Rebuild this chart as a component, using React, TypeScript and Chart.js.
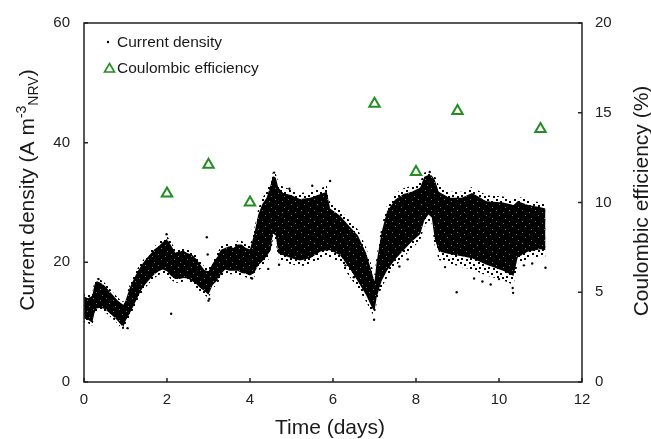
import { useEffect, useRef } from "react";
import { Chart, registerables } from "chart.js";

Chart.register(...registerables);

// ---- data ----
const timeDays = [
  0.0, 0.1, 0.2, 0.25, 0.3, 0.4, 0.5, 0.6, 0.7, 0.8, 0.9, 0.95, 1.0, 1.1, 1.2, 1.3, 1.4, 1.5, 1.6, 1.7,
  1.8, 1.9, 2.0, 2.1, 2.2, 2.3, 2.4, 2.5, 2.6, 2.7, 2.8, 2.9, 3.0, 3.1, 3.2, 3.3, 3.4, 3.5, 3.6, 3.7,
  3.8, 3.9, 4.0, 4.1, 4.2, 4.3, 4.4, 4.5, 4.55, 4.62, 4.68, 4.8, 5.0, 5.2, 5.45, 5.7, 5.85, 5.93, 6.17, 6.4,
  6.6, 6.8, 6.95, 7.0, 7.05, 7.17, 7.3, 7.5, 7.7, 7.9, 8.1, 8.2, 8.3, 8.38, 8.45, 8.55, 8.8, 9.1, 9.35, 9.7,
  10.1, 10.35, 10.45, 10.7, 11.0, 11.12,
];
// dense core of the current-density cloud (A m-3)
const densityHigh = [
  14.3, 14.0, 14.4, 16.2, 16.9, 16.6, 16.1, 15.3, 14.5, 13.7, 13.1, 12.9, 13.6, 15.7, 17.2, 18.6, 19.7, 20.6, 21.4, 22.2,
  22.7, 23.4, 23.9, 22.8, 21.6, 21.9, 21.9, 21.5, 21.3, 20.6, 19.7, 18.7, 18.5, 19.8, 20.8, 22.1, 22.4, 22.7, 22.4, 23.0,
  23.0, 22.4, 22.2, 24.7, 28.0, 29.8, 30.8, 33.0, 34.4, 34.2, 32.5, 31.6, 31.2, 30.6, 30.8, 31.4, 31.8, 29.0, 27.8, 26.0,
  24.5, 21.5, 18.0, 16.8, 20.0, 25.0, 28.5, 30.5, 31.4, 31.8, 32.5, 34.3, 34.6, 34.5, 33.8, 31.8, 30.8, 30.8, 31.6, 30.2,
  30.0, 29.6, 30.2, 29.6, 29.2, 29.0,
];
const densityLow = [
  10.6, 10.4, 9.9, 11.5, 12.3, 12.4, 12.2, 11.6, 11.0, 10.3, 9.5, 9.2, 10.2, 11.4, 12.8, 14.3, 15.6, 16.5, 17.3, 18.0,
  18.5, 18.8, 18.5, 17.7, 17.2, 17.2, 17.4, 17.3, 16.9, 16.4, 15.7, 15.2, 14.6, 16.2, 16.9, 18.0, 18.8, 18.6, 18.6, 18.6,
  18.2, 18.1, 17.8, 18.2, 19.5, 20.2, 21.0, 22.0, 24.8, 24.5, 21.5, 21.2, 20.7, 20.3, 20.7, 21.8, 22.0, 22.0, 21.2, 19.0,
  16.8, 14.5, 12.3, 11.8, 14.1, 16.9, 18.6, 20.5, 22.0, 23.5, 24.7, 27.0, 28.0, 27.5, 24.0, 21.8, 21.4, 21.0, 20.7, 19.6,
  18.6, 17.7, 20.8, 21.8, 22.2, 22.0,
];
// sparse fringe of the cloud
const fringeHigh = [
  14.8, 14.6, 14.9, 16.8, 17.4, 17.1, 16.6, 15.8, 15.0, 14.2, 13.6, 13.4, 14.1, 16.2, 17.7, 19.1, 20.2, 21.1, 21.9, 22.7,
  23.3, 24.0, 24.4, 23.4, 22.2, 22.5, 22.5, 22.1, 21.9, 21.2, 20.3, 19.3, 19.1, 20.4, 21.4, 22.7, 23.0, 23.3, 23.0, 23.6,
  23.6, 23.0, 22.8, 25.5, 29.0, 30.8, 31.8, 34.0, 35.0, 34.8, 33.5, 32.6, 32.2, 31.6, 31.8, 32.4, 32.8, 30.0, 28.8, 27.0,
  25.5, 22.5, 19.0, 17.8, 21.0, 26.0, 29.5, 31.5, 32.4, 32.8, 33.5, 35.0, 35.2, 35.0, 34.6, 32.8, 31.8, 31.8, 32.6, 31.2,
  31.0, 30.6, 31.0, 30.4, 30.0, 29.8,
];
const fringeLow = [
  10.0, 9.8, 9.4, 11.0, 11.8, 11.9, 11.7, 11.1, 10.5, 9.8, 9.0, 8.8, 9.7, 10.9, 12.3, 13.8, 15.0, 15.9, 16.7, 17.4,
  17.9, 18.2, 17.9, 17.1, 16.6, 16.6, 16.8, 16.7, 16.3, 15.8, 15.1, 14.6, 14.0, 15.6, 16.3, 17.4, 18.2, 18.0, 18.0, 18.0,
  17.6, 17.5, 17.2, 17.5, 18.6, 19.2, 20.0, 21.0, 23.8, 23.5, 20.5, 20.0, 19.7, 19.3, 19.7, 20.6, 20.8, 20.8, 19.8, 17.6,
  15.6, 13.4, 11.4, 10.9, 13.1, 15.8, 17.4, 19.3, 20.8, 22.3, 23.6, 26.0, 27.0, 26.5, 22.8, 20.4, 19.8, 19.2, 18.8, 17.8,
  17.0, 16.2, 19.8, 20.6, 21.0, 20.8,
];
const outlierTimes = [
  1.99, 2.1, 2.96, 2.98, 3.0, 3.02, 4.05, 4.44, 4.7, 4.95, 5.5, 5.93, 6.3, 6.5, 6.99, 7.6, 7.8, 8.7, 8.98, 9.4,
  9.6, 9.8, 10.0, 10.33, 10.34, 10.6, 10.8, 11.12, 0.35, 1.05, 4.58, 8.33,
];
const outlierDensity = [
  24.7, 11.4, 24.2, 21.3, 13.6, 13.9, 17.3, 18.9, 19.6, 32.3, 32.8, 33.6, 19.5, 17.5, 10.4, 19.3, 20.5, 19.2, 15.0, 17.3,
  16.8, 16.3, 17.2, 15.7, 14.9, 19.5, 19.8, 19.1, 17.2, 9.0, 35.0, 35.1,
];
const ceDays = [2, 3, 4, 7, 8, 9, 11];
const ceValues = [10.5, 12.1, 10.0, 15.5, 11.7, 15.1, 14.1];
const xTicks = [0, 2, 4, 6, 8, 10, 12];
const yLeftTicks = [0, 20, 40, 60];
const yRightTicks = [0, 5, 10, 15, 20];

const FONT = '"Liberation Sans", Arial, Helvetica, sans-serif';
const GREEN = "#238c23";
const INK = "#1a1a1a";

function makeDensePattern(ctx: CanvasRenderingContext2D) {
  const c = document.createElement("canvas");
  c.width = 13;
  c.height = 11;
  const g = c.getContext("2d")!;
  g.fillStyle = "#000";
  g.fillRect(0, 0, 13, 11);
  g.fillStyle = "rgba(255,255,255,0.45)";
  g.fillRect(2, 1, 1, 1);
  g.fillRect(9, 3, 1, 1);
  g.fillRect(5, 6, 1, 1);
  g.fillRect(11, 9, 1, 1);
  return ctx.createPattern(c, "repeat")!;
}

function makeFringePattern(ctx: CanvasRenderingContext2D) {
  const c = document.createElement("canvas");
  c.width = 9;
  c.height = 9;
  const g = c.getContext("2d")!;
  g.fillStyle = "#000";
  g.fillRect(1, 1, 2, 2);
  g.fillRect(5, 3, 2, 2);
  g.fillRect(2, 6, 2, 2);
  g.fillRect(7, 7, 2, 2);
  return ctx.createPattern(c, "repeat")!;
}

const decorPlugin = {
  id: "decor",
  afterDraw(chart: any) {
    const ctx = chart.ctx as CanvasRenderingContext2D;
    const ca = chart.chartArea;
    const sx = chart.scales.x;
    const sl = chart.scales.y;
    const sr = chart.scales.y1;
    ctx.save();
    ctx.strokeStyle = "#222";
    ctx.lineWidth = 1.5;
    ctx.strokeRect(ca.left, ca.top, ca.right - ca.left, ca.bottom - ca.top);
    ctx.beginPath();
    for (const v of xTicks) {
      const p = sx.getPixelForValue(v);
      ctx.moveTo(p, ca.bottom);
      ctx.lineTo(p, ca.bottom - 4);
    }
    for (const v of yLeftTicks) {
      const p = sl.getPixelForValue(v);
      ctx.moveTo(ca.left, p);
      ctx.lineTo(ca.left + 4, p);
    }
    for (const v of yRightTicks) {
      const p = sr.getPixelForValue(v);
      ctx.moveTo(ca.right, p);
      ctx.lineTo(ca.right - 4, p);
    }
    ctx.stroke();

    // x title
    ctx.fillStyle = INK;
    ctx.font = `21px ${FONT}`;
    ctx.textAlign = "center";
    ctx.textBaseline = "alphabetic";
    ctx.fillText("Time (days)", 330, 434);

    // left title with super/subscripts
    const segs: [string, number, number][] = [
      ["Current density (A m", 21, 0],
      ["-3", 14, -8],
      ["NRV", 14, 4],
      [")", 21, 0],
    ];
    let total = 0;
    for (const [t, s] of segs) {
      ctx.font = `${s}px ${FONT}`;
      total += ctx.measureText(t).width;
    }
    ctx.save();
    ctx.translate(34, 190);
    ctx.rotate(-Math.PI / 2);
    ctx.textAlign = "left";
    let cx = -total / 2;
    for (const [t, s, dy] of segs) {
      ctx.font = `${s}px ${FONT}`;
      ctx.fillText(t, cx, dy);
      cx += ctx.measureText(t).width;
    }
    ctx.restore();

    // right title
    ctx.save();
    ctx.translate(648, 201);
    ctx.rotate(-Math.PI / 2);
    ctx.textAlign = "center";
    ctx.font = `21px ${FONT}`;
    ctx.fillText("Coulombic efficiency (%)", 0, 0);
    ctx.restore();

    // legend
    ctx.font = `15.5px ${FONT}`;
    ctx.textAlign = "left";
    ctx.textBaseline = "middle";
    ctx.fillStyle = "#000";
    ctx.beginPath();
    ctx.arc(108, 42, 1.2, 0, Math.PI * 2);
    ctx.fill();
    ctx.fillStyle = INK;
    ctx.fillText("Current density", 117, 43);
    ctx.strokeStyle = GREEN;
    ctx.lineWidth = 1.6;
    ctx.beginPath();
    ctx.moveTo(109.5, 63.5);
    ctx.lineTo(114.5, 72);
    ctx.lineTo(104.5, 72);
    ctx.closePath();
    ctx.stroke();
    ctx.fillStyle = INK;
    ctx.fillText("Coulombic efficiency", 117, 69);
    ctx.restore();
  },
};

export default function App() {
  const ref = useRef<HTMLCanvasElement | null>(null);
  useEffect(() => {
    if (!ref.current) return;
    const c2d = ref.current.getContext("2d")!;
    const densePat = makeDensePattern(c2d);
    const fringePat = makeFringePattern(c2d);
    const pts = (ys: number[]) => timeDays.map((t, i) => ({ x: t, y: ys[i] }));
    const outliers = outlierTimes.map((t, i) => ({ x: t, y: outlierDensity[i] }));
    const ce = ceDays.map((t, i) => ({ x: t, y: ceValues[i] }));
    const tickFont = { family: FONT, size: 15 };
    const bandLine = (label: string, ys: number[], fill: any, bg: any, order: number) =>
      ({
        type: "line",
        label,
        data: pts(ys),
        yAxisID: "y",
        showLine: true,
        pointRadius: 0,
        borderWidth: 0,
        borderColor: "rgba(0,0,0,0)",
        backgroundColor: bg,
        fill,
        tension: 0,
        order,
      }) as any;
    const chart = new Chart(ref.current, {
      type: "scatter",
      data: {
        datasets: [
          {
            label: "Coulombic efficiency",
            data: ce,
            yAxisID: "y1",
            pointStyle: "triangle",
            pointRadius: 6,
            borderColor: GREEN,
            backgroundColor: "rgba(0,0,0,0)",
            borderWidth: 2,
            order: 0,
          } as any,
          {
            label: "outliers",
            data: outliers,
            yAxisID: "y",
            pointRadius: 1.2,
            borderWidth: 0,
            backgroundColor: "#000",
            order: 1,
          },
          bandLine("dense high", densityHigh, "+1", densePat, 2),
          bandLine("dense low", densityLow, false, "rgba(0,0,0,0)", 3),
          bandLine("fringe high", fringeHigh, "+1", fringePat, 4),
          bandLine("fringe low", fringeLow, false, "rgba(0,0,0,0)", 5),
        ],
      },
      options: {
        responsive: false,
        animation: false,
        devicePixelRatio: 1,
        layout: { padding: { top: 20, left: 0, right: 0, bottom: 0 } },
        plugins: { legend: { display: false }, tooltip: { enabled: false } },
        scales: {
          x: {
            type: "linear",
            min: 0,
            max: 12,
            grid: { display: false, drawTicks: false },
            border: { display: false },
            afterBuildTicks: (s: any) => {
              s.ticks = xTicks.map((v) => ({ value: v }));
            },
            afterFit: (s: any) => {
              s.height = 57;
            },
            ticks: { font: tickFont, color: "#222", padding: 9, maxRotation: 0 },
          },
          y: {
            type: "linear",
            position: "left",
            min: 0,
            max: 60,
            grid: { display: false, drawTicks: false },
            border: { display: false },
            afterBuildTicks: (s: any) => {
              s.ticks = yLeftTicks.map((v) => ({ value: v }));
            },
            afterFit: (s: any) => {
              s.width = 84;
            },
            ticks: { font: tickFont, color: "#222", padding: 14 },
          },
          y1: {
            type: "linear",
            position: "right",
            min: 0,
            max: 20,
            grid: { display: false, drawTicks: false },
            border: { display: false },
            afterBuildTicks: (s: any) => {
              s.ticks = yRightTicks.map((v) => ({ value: v }));
            },
            afterFit: (s: any) => {
              s.width = 69;
            },
            ticks: { font: tickFont, color: "#222", padding: 13 },
          },
        },
      } as any,
      plugins: [decorPlugin],
    });
    return () => chart.destroy();
  }, []);
  return (
    <div style={{ position: "fixed", left: 0, top: 0, width: 651, height: 439, background: "#fff" }}>
      <canvas ref={ref} width={651} height={439} style={{ display: "block" }} />
    </div>
  );
}
